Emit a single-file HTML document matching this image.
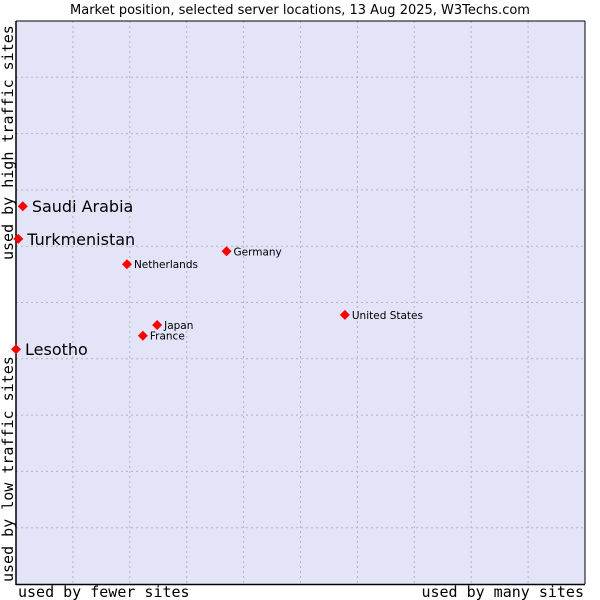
<!DOCTYPE html>
<html><head><meta charset="utf-8"><style>
body{margin:0;background:#fff;}
svg{display:block;}
</style></head><body>
<svg id="chart" width="600" height="600" xmlns="http://www.w3.org/2000/svg">
<rect x="0" y="0" width="600" height="600" fill="#fff"/>
<text x="300" y="14" text-anchor="middle" font-family="DejaVu Sans, sans-serif" font-size="13" fill="#000">Market position, selected server locations, 13 Aug 2025, W3Techs.com</text>
<rect x="16" y="21" width="569" height="563" fill="#e4e4f8"/>
<g id="grid"></g>
<line x1="16" y1="21" x2="585" y2="21" stroke="#000"/>
<line x1="585" y1="21" x2="585" y2="584" stroke="#000"/>
<line x1="16" y1="21" x2="16" y2="585" stroke="#000" stroke-width="1.5"/>
<line x1="16" y1="584.5" x2="585" y2="584.5" stroke="#000" stroke-width="1.5"/>
<text x="18" y="597" font-family="DejaVu Sans Mono, Liberation Mono, monospace" font-size="15" fill="#000">used by fewer sites</text>
<text x="584" y="597" text-anchor="end" font-family="DejaVu Sans Mono, Liberation Mono, monospace" font-size="15" fill="#000">used by many sites</text>
<text transform="translate(13,582) rotate(-90)" font-family="DejaVu Sans Mono, Liberation Mono, monospace" font-size="15" fill="#000">used by low traffic sites</text>
<text transform="translate(13,260) rotate(-90)" font-family="DejaVu Sans Mono, Liberation Mono, monospace" font-size="15" fill="#000">used by high traffic sites</text>
<g id="points"></g>
</svg>
<script>
const countries = ["Saudi Arabia","Turkmenistan","Netherlands","Germany","Japan","France","Lesotho","United States"];
const xValues = [1.2,0.4,19.5,37.0,24.8,22.3,0.0,57.8];
const yValues = [67.1,61.3,56.8,59.1,46.0,44.1,41.7,47.8];
const bigLabel = [true,true,false,false,false,false,true,false];
const gridTicks = [10,20,30,40,50,60,70,80,90];
const NS="http://www.w3.org/2000/svg";
const X0=16,X1=585,Y0=584,Y1=21;
function sx(v){return X0+(X1-X0)*v/100;}
function sy(v){return Y0-(Y0-Y1)*v/100;}
const grid=document.getElementById('grid');
gridTicks.forEach(t=>{
  const v=document.createElementNS(NS,'line');
  v.setAttribute('x1',sx(t));v.setAttribute('x2',sx(t));v.setAttribute('y1',Y1);v.setAttribute('y2',Y0);
  v.setAttribute('stroke','#b4b4b4');v.setAttribute('stroke-dasharray','2,3');
  
  
  grid.appendChild(v);
  const h=document.createElementNS(NS,'line');
  h.setAttribute('x1',X0);h.setAttribute('x2',X1);h.setAttribute('y1',sy(t));h.setAttribute('y2',sy(t));
  h.setAttribute('stroke','#b4b4b4');h.setAttribute('stroke-dasharray','2,3');
  
  
  grid.appendChild(h);
});
const pts=document.getElementById('points');
countries.forEach((c,i)=>{
  const x=sx(xValues[i]),y=sy(yValues[i]);
  const p=document.createElementNS(NS,'polygon');
  p.setAttribute('points',`${x},${y-5} ${x+5},${y} ${x},${y+5} ${x-5},${y}`);
  p.setAttribute('fill','#ff0000');
  
  
  pts.appendChild(p);
  const t=document.createElementNS(NS,'text');
  const big=bigLabel[i];
  t.setAttribute('x',x+(big?9:7));
  t.setAttribute('y',y+(big?6:4));
  t.setAttribute('font-family','DejaVu Sans, sans-serif');
  t.setAttribute('font-size',big?'16':'10.5');
  t.setAttribute('fill','#000');
  t.textContent=c;
  
  
  pts.appendChild(t);
});
</script>
</body></html>
